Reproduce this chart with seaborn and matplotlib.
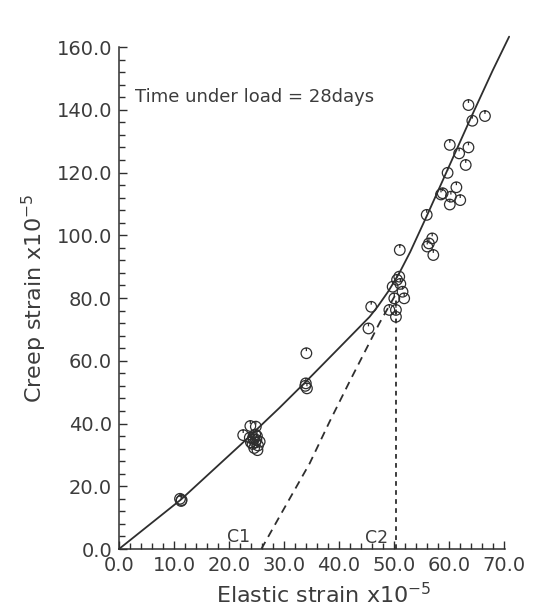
import numpy as np
import pandas as pd
import matplotlib
matplotlib.use("Agg")
import matplotlib.pyplot as plt
from matplotlib.path import Path
from matplotlib.ticker import MultipleLocator, FormatStrFormatter
import seaborn as sns

sns.set_style("ticks")
plt.rcParams["font.family"] = ["DejaVu Sans"]

# measured points (elastic strain, creep strain), x10^-5
elastic = [11.1, 11.4, 11.3,
           22.6, 23.9, 24.9, 24.4, 24.0, 25.0, 24.6, 25.6, 25.2, 24.8, 23.8, 25.3,
           24.5, 24.8, 24.3, 25.1,
           34.1, 34.0, 34.2, 33.9,
           45.9, 45.4,
           51.0, 50.6, 49.8, 51.6, 51.9, 50.1, 49.2, 50.4, 50.4, 51.2,
           51.1, 56.0, 57.0, 56.4, 56.1, 57.2, 58.9, 58.6, 61.4, 60.4, 62.1, 60.2,
           59.8, 63.1, 61.9, 60.2, 63.6, 64.3, 66.6, 63.6]
creep = [16.0, 15.6, 15.3,
         36.3, 39.2, 39.0, 35.5, 34.0, 34.8, 32.2, 34.2, 31.5, 36.5, 35.5, 33.0,
         35.0, 34.0, 33.5, 36.0,
         62.4, 52.8, 51.2, 52.0,
         77.2, 70.3,
         86.8, 85.8, 83.6, 82.0, 79.9, 79.9, 76.2, 76.2, 74.0, 84.5,
         95.3, 106.5, 99.0, 97.4, 96.4, 93.7, 113.4, 113.0, 115.3, 112.3, 111.2, 109.8,
         119.9, 122.4, 126.1, 128.8, 128.0, 136.5, 138.0, 141.5]

# fitted curve
fit_x = [0, 11.3, 22.3, 29.2, 34.1, 40.0, 45.6, 47.0, 49.0, 51.0, 53.0, 56.0, 60.0, 64.0, 68.0, 71.0]
fit_y = [0, 15.8, 33.5, 45.0, 53.5, 64.0, 74.0, 77.1, 82.1, 87.9, 94.7, 106.1, 121.7, 137.3, 152.5, 163.3]

# dashed construction lines
c1_x = [25.9, 29.2, 34.7, 38.3, 42.0, 47.4, 50.3]
c1_y = [0, 10.3, 27.3, 40.5, 53.5, 72.0, 81.0]
c2_x = [50.4, 50.4]
c2_y = [0, 80.0]

df = pd.DataFrame({"elastic": elastic, "creep": creep})

ink = "#2e2e2e"
txt = "#3c3c3c"

# circle with a small tick at the top
circ = Path.unit_circle()
tick = Path([[0, 1.0], [0, 0.4]], [Path.MOVETO, Path.LINETO])
marker = Path.make_compound_path(circ, tick)

fig = plt.figure(figsize=(5.33, 6.13), dpi=100)
ax = fig.add_axes([0.2233, 0.1044, 0.7247, 0.8189])

ax.plot(fit_x, fit_y, color=ink, lw=1.3, clip_on=False, zorder=3)
ax.plot(c1_x, c1_y, color=ink, lw=1.3, ls=(0, (4.5, 3.2)), zorder=2)
ax.plot(c2_x, c2_y, color=ink, lw=1.3, ls=(0, (2.6, 2.4)), zorder=2)

sns.scatterplot(data=df, x="elastic", y="creep", marker=marker, s=58,
                facecolor="none", edgecolor=ink, linewidth=0.9, ax=ax, zorder=4)

ax.text(2.9, 144, "Time under load = 28days", fontsize=13, color=txt,
        va="center", ha="left")
ax.text(21.7, 3.9, "C1", fontsize=12.5, color=txt, ha="center", va="center")
ax.text(46.8, 3.4, "C2", fontsize=12.5, color=txt, ha="center", va="center")

ax.set_xlim(0, 70.3)
ax.set_ylim(0, 160)
ax.xaxis.set_major_locator(MultipleLocator(10))
ax.xaxis.set_minor_locator(MultipleLocator(2))
ax.yaxis.set_major_locator(MultipleLocator(20))
ax.yaxis.set_minor_locator(MultipleLocator(4))
ax.xaxis.set_major_formatter(FormatStrFormatter("%.1f"))
ax.yaxis.set_major_formatter(FormatStrFormatter("%.1f"))
ax.tick_params(which="both", direction="in", color=ink, width=1.0)
ax.tick_params(which="major", length=6, labelsize=14, labelcolor=txt, pad=5)
ax.tick_params(which="minor", length=4)

sns.despine(ax=ax)
for s in ["left", "bottom"]:
    ax.spines[s].set_color(ink)
    ax.spines[s].set_linewidth(1.1)

ax.set_xlabel(r"Elastic strain x10$^{-5}$", fontsize=16, color=txt)
ax.set_ylabel(r"Creep strain x10$^{-5}$", fontsize=16, color=txt)
ax.xaxis.set_label_coords(0.53, -0.066)
ax.yaxis.set_label_coords(-0.18, 0.5)

fig.savefig("out.png", dpi=100)
